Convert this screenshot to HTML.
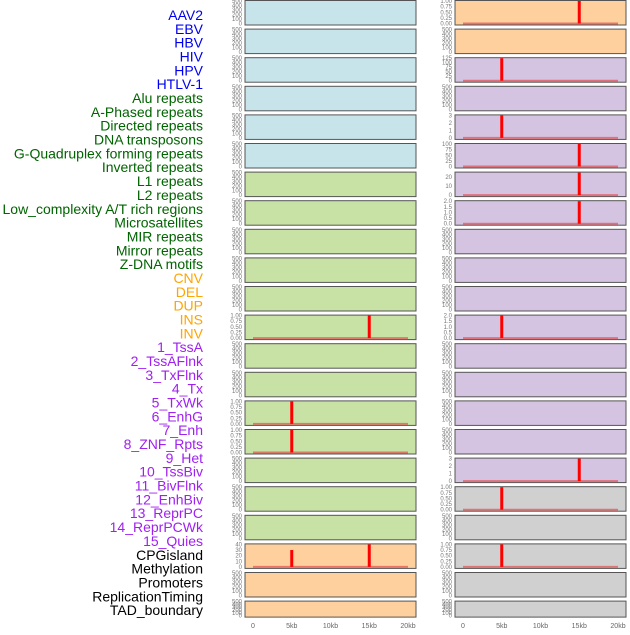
<!DOCTYPE html>
<html><head><meta charset="utf-8"><style>
body{margin:0;background:#fff;width:630px;height:630px;overflow:hidden;font-family:"Liberation Sans",sans-serif}
</style></head><body>
<svg id="c" width="630" height="630" xmlns="http://www.w3.org/2000/svg"></svg>
<script>
const labels=["AAV2","EBV","HBV","HIV","HPV","HTLV-1","Alu repeats","A-Phased repeats","Directed repeats","DNA transposons","G-Quadruplex forming repeats","Inverted repeats","L1 repeats","L2 repeats","Low_complexity A/T rich regions","Microsatellites","MIR repeats","Mirror repeats","Z-DNA motifs","CNV","DEL","DUP","INS","INV","1_TssA","2_TssAFlnk","3_TxFlnk","4_Tx","5_TxWk","6_EnhG","7_Enh","8_ZNF_Rpts","9_Het","10_TssBiv","11_BivFlnk","12_EnhBiv","13_ReprPC","14_ReprPCWk","15_Quies","CPGisland","Methylation","Promoters","ReplicationTiming","TAD_boundary"];
const labelGroups=[6,13,5,15,5];
const groupColors=["#0000ee","#006400","#ffa500","#a020f0","#000000"];
const leftFill=["b","b","b","b","b","b","g","g","g","g","g","g","g","g","g","g","g","g","g","o","o","o"];
const rightFill=["o","o","p","p","p","p","p","p","p","p","p","p","p","p","p","p","p","gr","gr","gr","gr","gr"];
// events per panel: [row, kbPosition, value]
const leftEvents=[[11,15,1],[14,5,1],[15,5,1],[19,5,30],[19,15,40]];
const rightEvents=[[0,15,1],[2,5,125],[4,5,3],[5,15,100],[6,15,25],[7,15,2],[11,5,2],[16,15,3],[17,5,1],[19,5,1]];
// y-axis max and tick step per row for panels with data
const leftTicks={11:[1,0.25,2],14:[1,0.25,2],15:[1,0.25,2],19:[40,10,0]};
const rightTicks={0:[1,0.25,2],2:[125,25,0],4:[3,1,0],5:[100,25,0],6:[25,10,0],7:[2,0.5,1],11:[2,0.5,1],16:[3,1,0],17:[1,0.25,2],19:[1,0.25,2]};
const xTicks=[0,5,10,15,20];
const xTickLabels=["0","5kb","10kb","15kb","20kb"];
const fills={b:"#c7e4eb",g:"#c8e1a4",o:"#fed09d",p:"#d5c4e1",gr:"#d0d0d0"};
const svg=document.getElementById('c');const NS="http://www.w3.org/2000/svg";
function mk(t,a,p){const e=document.createElementNS(NS,t);for(const k in a)e.setAttribute(k,a[k]);(p||svg).appendChild(e);return e;}
let li=0;
labelGroups.forEach((n,g)=>{for(let i=0;i<n;i++){const t=mk('text',{x:203,y:15+li*13.84+5,'text-anchor':'end','font-size':14,fill:groupColors[g]});t.textContent=labels[li];

li++;}});
function rowTop(r){return r*28.6;}
function rowH(r){return r===21?16:24.5;}
function panel(col,r,fill,events,ticks){
 const x0=col===0?245:455,w=171,top=rowTop(r)+0.5,h=rowH(r);
 const sx=kb=>x0+8+kb/20*155;
 const g=mk('g',{});
 
 
 mk('rect',{x:x0,y:top,width:w,height:h,fill:fills[fill],stroke:'#555','stroke-width':1},g);
 const bot=top+h-1.5;
 let ymax=500,step=100,dec=0;
 if(ticks){ymax=ticks[0];step=ticks[1];dec=ticks[2];}
 const sy=v=>bot-v/ymax*(h-2);
 for(let v=0;v<=ymax+1e-9;v+=step){const t=mk('text',{x:x0-3,y:sy(v)+2,'text-anchor':'end','font-size':6,fill:'#777'},g);t.textContent=v.toFixed(dec);}
 if(events.length){
  mk('line',{x1:sx(0),x2:sx(20),y1:bot,y2:bot,stroke:'#e05050','stroke-width':2,opacity:0.7},g);
  events.forEach(e=>{const l=mk('line',{x1:sx(e[1]),x2:sx(e[1]),y1:bot,y2:sy(e[2]),stroke:'#ff0000','stroke-width':3},g);
   
   });
 }
}
for(let r=0;r<22;r++){
 panel(0,r,leftFill[r],leftEvents.filter(e=>e[0]===r),leftTicks[r]);
 panel(1,r,rightFill[r],rightEvents.filter(e=>e[0]===r),rightTicks[r]);
}
[245,455].forEach((x0,ci)=>{xTicks.forEach((k,i)=>{const t=mk('text',{x:x0+8+k/20*155,y:628,'text-anchor':'middle','font-size':7,fill:'#666'});t.textContent=xTickLabels[i];

});});
</script>
</body></html>
